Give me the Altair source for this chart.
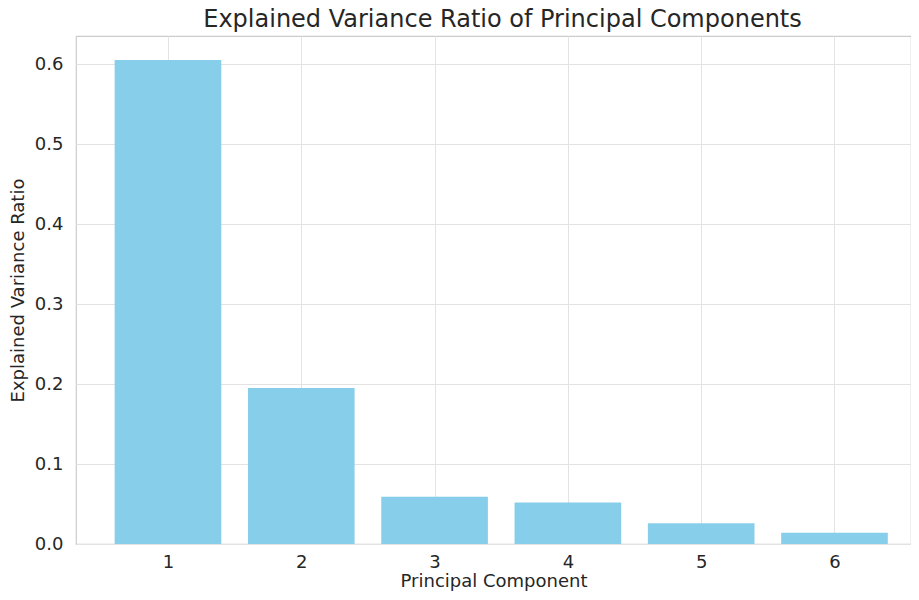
import altair as alt
import pandas as pd

components = [1, 2, 3, 4, 5, 6]
ratios = [0.605, 0.195, 0.059, 0.052, 0.026, 0.014]

df = pd.DataFrame({"pc": components, "ratio": ratios})

FONT = "DejaVu Sans"
TXT = "#262626"
GRID = "#e3e3e3"

chart = alt.Chart(df).transform_calculate(
    x0="datum.pc - 0.4", x1="datum.pc + 0.4"
).mark_bar(color="#87CEEB").encode(
    x=alt.X("x0:Q", scale=alt.Scale(domain=[0.31, 6.574], nice=False, zero=False),
            axis=alt.Axis(values=components, format="d", title="Principal Component",
                          labelFontSize=18, titleFontSize=18, labelPadding=9,
                          titlePadding=1, ticks=False, domain=False)),
    x2="x1:Q",
    y=alt.Y("ratio:Q", scale=alt.Scale(domain=[0, 0.635], nice=False),
            axis=alt.Axis(values=[0, 0.1, 0.2, 0.3, 0.4, 0.5, 0.6], format=".1f",
                          title="Explained Variance Ratio",
                          labelFontSize=18, titleFontSize=18, labelPadding=13,
                          titlePadding=7, ticks=False, domain=False)),
    y2=alt.datum(0),
).properties(
    width=835, height=508,
    title=alt.TitleParams("Explained Variance Ratio of Principal Components",
                          fontSize=24, font=FONT, color=TXT, fontWeight="normal",
                          anchor="middle", dx=9, offset=4),
    autosize=alt.AutoSizeParams(type="none"),
    padding={"left": 68, "top": 28, "right": 0, "bottom": 48},
).configure_axis(
    labelFont=FONT, titleFont=FONT, labelColor=TXT, titleColor=TXT,
    titleFontWeight="normal", gridColor=GRID, gridWidth=1,
).configure_view(
    stroke="#cccccc", strokeWidth=1.2,
)

chart.save("out.html", embed_options={"renderer": "svg", "actions": False})
